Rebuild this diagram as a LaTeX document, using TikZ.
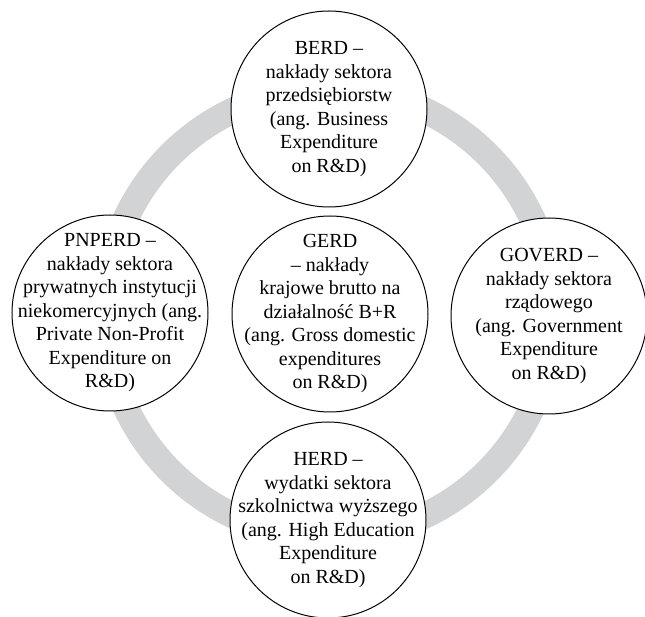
\documentclass[tikz,border=0pt]{standalone}
\usepackage{fontspec}
\setmainfont{Liberation Serif}
\definecolor{ringgray}{RGB}{209,211,212}
\tikzset{
  bubble/.style={circle, draw=black, line width=1pt, fill=white, minimum size=196pt, inner sep=0pt},
  bubbletext/.style={inner sep=0pt, align=center, font=\fontsize{20}{23.5}\selectfont},
  ring/.style={draw=ringgray, line width=26pt}
}
\begin{document}
\begin{tikzpicture}[x=1pt,y=1pt]
\useasboundingbox (0,0) rectangle (645,616);
\clip (0,0) rectangle (645,616);
\fill[white] (0,0) rectangle (645,616);
\coordinate (ringc) at (329,303);
\draw[ring] (ringc) circle (224pt);
\node[bubble] (berd) at (329,507) {};
\node[bubble] (pnperd) at (110,303) {};
\node[bubble] (gerd) at (330,302) {};
\node[bubble] (goverd) at (549,300) {};
\node[bubble] (herd) at (328,96) {};
\node[bubbletext] (berdt) at (berd) {BERD –\\nakłady sektora\\przedsiębiorstw\\(ang. Business\\Expenditure\\on R\&D)};
\node[bubbletext] (pnperdt) at (pnperd) {PNPERD –\\nakłady sektora\\prywatnych instytucji\\niekomercyjnych (ang.\\Private Non-Profit\\Expenditure on\\R\&D)};
\node[bubbletext] (gerdt) at (gerd) {GERD\\– nakłady\\krajowe brutto na\\działalność B+R\\(ang. Gross domestic\\expenditures\\on R\&D)};
\node[bubbletext] (goverdt) at (goverd) {GOVERD –\\nakłady sektora\\rządowego\\(ang. Government\\Expenditure\\on R\&D)};
\node[bubbletext] (herdt) at (herd) {HERD –\\wydatki sektora\\szkolnictwa wyższego\\(ang. High Education\\Expenditure\\on R\&D)};
\end{tikzpicture}
\end{document}
